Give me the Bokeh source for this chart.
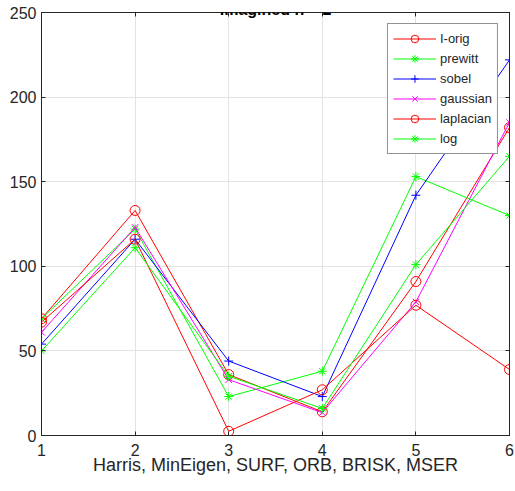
from bokeh.plotting import figure
from bokeh.models import Legend, LegendItem, LinearAxis, FixedTicker, Label, Range1d
from bokeh.embed import file_html
from bokeh.resources import INLINE

# ---- data ----
x_vals = [1, 2, 3, 4, 5, 6]
x_ticks = [1, 2, 3, 4, 5, 6]
y_ticks = [0, 50, 100, 150, 200, 250]
i_orig = [69, 133, 36, 14, 91, 182]
prewitt = [69, 122, 23, 38, 153, 130]
sobel = [54, 116, 44, 23, 142, 222]
gaussian = [61, 123, 33, 13.5, 79, 185]
laplacian = [67, 116, 2.5, 27, 77, 39]
log_vals = [50, 111, 35, 16, 101, 165]
series_names = ["I-orig", "prewitt", "sobel", "gaussian", "laplacian", "log"]
x_label = "Harris, MinEigen, SURF, ORB, BRISK, MSER"
title_text = "Imagined n = 2"

FONT = "Liberation Sans"
DARK = "#262626"

p = figure(width=515, height=491, output_backend="svg", toolbar_location=None,
           x_range=Range1d(1, 6), y_range=Range1d(0, 250),
           min_border_left=41, min_border_right=6, min_border_top=12,
           min_border_bottom=56, background_fill_color="white",
           border_fill_color="white")
p.outline_line_color = DARK
p.outline_line_width = 1

for ax, ticks in ((p.xaxis[0], x_ticks), (p.yaxis[0], y_ticks)):
    ax.ticker = FixedTicker(ticks=ticks)
    ax.minor_tick_line_color = None
    ax.major_tick_in = 4
    ax.major_tick_out = 0
    ax.axis_line_color = DARK
    ax.major_tick_line_color = DARK
    ax.major_label_text_font = FONT
    ax.major_label_text_font_size = "16px"
    ax.major_label_text_color = DARK

p.xaxis.major_label_standoff = 8
p.yaxis.major_label_standoff = 5
p.xaxis.axis_label = x_label
p.xaxis.axis_label_text_font = FONT
p.xaxis.axis_label_text_font_size = "18px"
p.xaxis.axis_label_text_font_style = "normal"
p.xaxis.axis_label_text_color = DARK
p.xaxis.axis_label_standoff = -4

# mirrored ticks on top and right (no labels drawn)
top = LinearAxis(ticker=FixedTicker(ticks=x_ticks))
right = LinearAxis(ticker=FixedTicker(ticks=y_ticks))
for ax in (top, right):
    ax.minor_tick_line_color = None
    ax.major_tick_in = 4
    ax.major_tick_out = 0
    ax.axis_line_color = DARK
    ax.major_tick_line_color = DARK
    ax.major_label_standoff = 0
    ax.major_label_text_color = None
    ax.major_label_text_alpha = 0
p.add_layout(top, "above")
p.add_layout(right, "right")

p.xgrid.ticker = FixedTicker(ticks=x_ticks)
p.ygrid.ticker = FixedTicker(ticks=y_ticks)
p.xgrid.grid_line_color = "#e3e3e3"
p.ygrid.grid_line_color = "#e3e3e3"

styles = [
    (i_orig, "#ff0000", "circle"),
    (prewitt, "#00ff00", "asterisk"),
    (sobel, "#0000ff", "cross"),
    (gaussian, "#ff00ff", "x"),
    (laplacian, "#ff0000", "circle"),
    (log_vals, "#00ff00", "asterisk"),
]

items = []
for name, (vals, color, marker) in zip(series_names, styles):
    lr = p.line(x_vals, vals, line_color=color, line_width=1)
    sr = p.scatter(x_vals, vals, marker=marker, size=10 if marker == "circle" else 9,
                   line_color=color, fill_color=None, line_width=1)
    items.append(LegendItem(label=name, renderers=[lr, sr]))

legend = Legend(items=items, location="top_right", margin=11,
                padding=5, spacing=1, glyph_width=43, glyph_height=19,
                label_height=19, label_standoff=4,
                label_text_font=FONT, label_text_font_size="13px",
                label_text_color=DARK, border_line_color=DARK,
                border_line_width=1, background_fill_color="white",
                background_fill_alpha=1)
p.add_layout(legend)

title = Label(x=3.5, y=250, y_offset=3, text=title_text, text_align="center",
              text_baseline="alphabetic", text_font=FONT, text_font_size="16px",
              text_font_style="bold", text_color="black")
p.add_layout(title)

open("out.html", "w").write(file_html(p, INLINE))
